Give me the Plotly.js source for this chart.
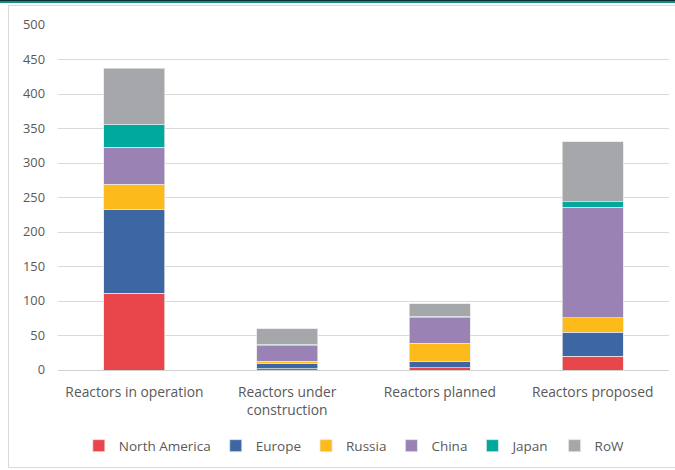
<!DOCTYPE html>
<html>
<head>
<meta charset="utf-8">
<script src="https://cdn.plot.ly/plotly-3.0.1.min.js"></script>
<style>
  html, body { margin: 0; padding: 0; background: #fff; }
  #wrap { position: relative; width: 675px; height: 470px; overflow: hidden; }
  #chart { position: absolute; left: 0; top: 0; width: 675px; height: 470px; }
  .topbar1 { position: absolute; left: 0; top: 0; width: 675px; height: 1px; background: #0b2f2f; z-index: 5; }
  .topbar2 { position: absolute; left: 0; top: 1px; width: 675px; height: 2px; background: #0d8f86; z-index: 5; }
  .frame { position: absolute; left: 8px; top: 5px; width: 667px; height: 463px; border: 1px solid #d9d9d9; border-right: none; box-sizing: border-box; z-index: 5; pointer-events: none; }
</style>
</head>
<body>
<div id="wrap">
  <div id="chart"></div>
  <div class="topbar1"></div>
  <div class="topbar2"></div>
  <div class="frame"></div>
</div>
<script>
var categories = ["Reactors in operation", "Reactors under<br>construction", "Reactors planned", "Reactors proposed"];
var northAmerica = [111, 2, 3, 20];
var europe = [121, 8, 10, 35];
var russia = [37, 3, 26, 21];
var china = [54, 22, 37, 160];
var japan = [33, 2, 2, 8];
var row = [81, 23, 18, 87];
var seriesNames = ["North America", "Europe", "Russia", "China", "Japan", "RoW"];
var seriesColors = ["#E8464A", "#3D67A3", "#FDBB1B", "#9A83B4", "#00A99D", "#A6A7AA"];
var seriesValues = [northAmerica, europe, russia, china, japan, row];
var yTicks = [0, 50, 100, 150, 200, 250, 300, 350, 400, 450, 500];

var traces = seriesValues.map(function (vals, i) {
  return {
    type: "bar",
    name: seriesNames[i],
    x: categories,
    y: vals,
    marker: { color: seriesColors[i], line: { color: "rgba(230,230,230,0.9)", width: 0.8 } },
    hoverinfo: "none"
  };
});

var layout = {
  width: 675,
  height: 470,
  barmode: "stack",
  bargap: 0.6,
  margin: { l: 58, r: 6, t: 25, b: 100 },
  paper_bgcolor: "#ffffff",
  plot_bgcolor: "#ffffff",
  font: { family: "Open Sans, Noto Sans, sans-serif", size: 13, color: "#595959" },
  xaxis: {
    type: "category",
    showgrid: false,
    showline: true,
    linecolor: "#d0d0d0",
    linewidth: 1,
    ticks: "",
    ticklabelstandoff: 9,
    tickfont: { size: 13.8, color: "#595959" },
    fixedrange: true
  },
  yaxis: {
    range: [0, 500],
    tickvals: yTicks,
    ticktext: yTicks.map(String),
    showgrid: true,
    gridcolor: "#d9d9d9",
    gridwidth: 1,
    zeroline: false,
    ticks: "",
    ticklabelstandoff: 12,
    tickfont: { size: 12.8, color: "#595959" },
    fixedrange: true
  },
  showlegend: true,
  legend: {
    orientation: "h",
    x: 0.485,
    xanchor: "center",
    y: -0.175,
    yanchor: "top",
    traceorder: "normal",
    font: { size: 13.5, color: "#595959" },
    itemwidth: 30,
    itemclick: false
  }
};

Plotly.newPlot("chart", traces, layout, { staticPlot: true, displayModeBar: false });
</script>
</body>
</html>
